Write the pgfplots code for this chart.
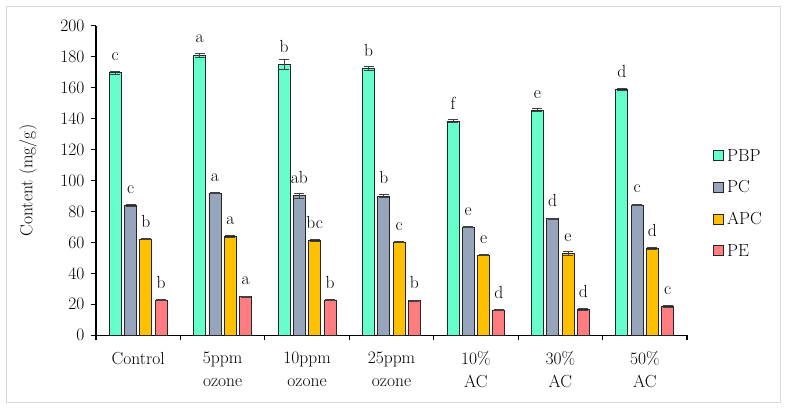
\documentclass[border=0pt]{standalone}
\usepackage{fontspec}
\setmainfont{Latin Modern Roman}
\usepackage{pgfplots}
\pgfplotsset{compat=1.18}
\usepackage{pgfplotstable}
\definecolor{cPBP}{HTML}{66FFCC}
\definecolor{cPC}{HTML}{97A5BC}
\definecolor{cAPC}{HTML}{FFC000}
\definecolor{cPE}{HTML}{FF7C80}
\definecolor{errc}{HTML}{404040}
\definecolor{framec}{HTML}{D9D9D9}
\newcommand{\chartfont}{\fontsize{17.5}{23}\selectfont}

\pgfplotstableread{
x y e l
0 169.6 1.0 c
1 181.1 1.3 a
2 175.1 3.2 b
3 172.5 1.5 b
4 138.4 0.8 f
5 145.5 0.9 e
6 158.9 0.6 d
}\tPBP
\pgfplotstableread{
x y e l
0 84.0 0.5 c
1 91.9 0.5 a
2 90.2 1.6 ab
3 90.0 0.7 b
4 69.8 0.4 e
5 75.3 0.4 d
6 84.2 0.6 c
}\tPC
\pgfplotstableread{
x y e l
0 62.2 0.5 b
1 63.7 0.6 a
2 61.4 0.8 bc
3 60.1 0.4 c
4 51.7 0.3 e
5 53.0 1.2 e
6 56.2 0.5 d
}\tAPC
\pgfplotstableread{
x y e l
0 22.6 0.3 b
1 24.9 0.3 a
2 22.8 0.3 b
3 22.4 0.3 b
4 16.3 0.3 d
5 16.8 0.4 d
6 18.5 0.6 c
}\tPE

\pgfplotsset{
  mybar/.style={fill=#1, draw=black!85, line width=0.9pt,
    error bars/.cd, y dir=both, y explicit,
    error bar style={errc, line width=0.8pt},
    error mark options={errc, rotate=90, mark size=5pt, line width=0.8pt}},
}

\begin{document}
\begin{tikzpicture}
\begin{axis}[
  at={(0pt,0pt)}, anchor=south west,
  scale only axis, width=591pt, height=309.6pt,
  xmin=-0.5, xmax=6.5, ymin=0, ymax=200,
  axis x line*=bottom, axis y line*=left,
  axis line style={-, black, line width=1.3pt},
  tick align=outside, major tick length=5pt,
  tick style={black, line width=1.1pt},
  /pgf/number format/assume math mode=true,
  xtick={-0.5,0.5,...,6.5},
  x tick label as interval,
  xticklabels={Control,5ppm\\ozone,10ppm\\ozone,25ppm\\ozone,10\%\\AC,30\%\\AC,50\%\\AC},
  xticklabel style={align=center, font=\chartfont, yshift=-8pt},
  ytick={0,20,...,200},
  yticklabel style={font=\chartfont, xshift=-3pt},
  ylabel={Content (mg/g)},
  every axis y label/.style={at={(axis description cs:-0.115,0.5)}, anchor=center, rotate=90, font=\chartfont},
  ybar=3.3pt, bar width=12pt,
  point meta=explicit symbolic,
  nodes near coords,
  every node near coord/.append style={font=\chartfont, inner sep=0pt, anchor=base, yshift=12pt, black},
  legend style={at={(axis description cs:1.044,0.426)}, anchor=west, draw=none, fill=none, font=\chartfont, row sep=18pt, inner sep=0pt,
    nodes={inner xsep=3pt, inner ysep=0pt}},
  legend cell align=left,
  legend image code/.code={\draw[#1, draw=black!85, line width=0.9pt] (0pt,-5pt) rectangle (10pt,5pt);},
]
\addplot[mybar=cPBP] table[x=x, y=y, y error=e, meta=l] {\tPBP};
\addplot[mybar=cPC] table[x=x, y=y, y error=e, meta=l] {\tPC};
\addplot[mybar=cAPC] table[x=x, y=y, y error=e, meta=l] {\tAPC};
\addplot[mybar=cPE] table[x=x, y=y, y error=e, meta=l] {\tPE};
\legend{PBP,PC,APC,PE}
\end{axis}
\draw[framec, line width=1pt] (-89.3pt,-67.7pt) rectangle (684pt,328.6pt);
\pgfresetboundingbox
\path[use as bounding box] (-96pt,-73.7pt) rectangle (692pt,335.3pt);
\end{tikzpicture}
\end{document}
